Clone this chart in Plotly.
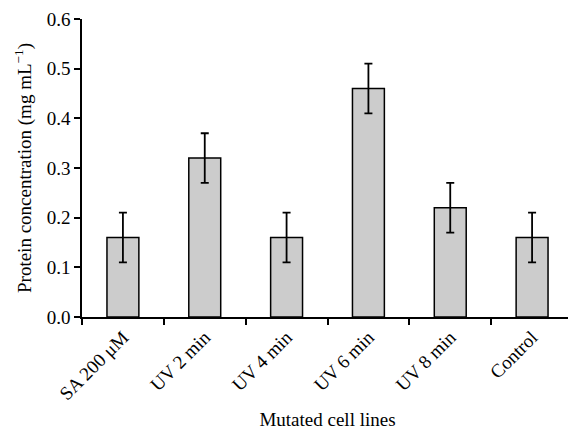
import plotly.graph_objects as go

categories = ["SA 200 μM", "UV 2 min", "UV 4 min", "UV 6 min", "UV 8 min", "Control"]
values = [0.16, 0.32, 0.16, 0.46, 0.22, 0.16]
errors = [0.05, 0.05, 0.05, 0.05, 0.05, 0.05]
y_ticks = [0.0, 0.1, 0.2, 0.3, 0.4, 0.5, 0.6]

fig = go.Figure()
fig.add_trace(go.Bar(
    x=categories, y=values,
    width=0.39,
    marker=dict(color="#cccccc", line=dict(color="black", width=1.5)),
    error_y=dict(type="data", array=errors, visible=True, color="black", thickness=1.8, width=4),
))

# page body has an 8px default margin, so the figure is shrunk by 8px on each side
font = dict(family="Liberation Serif, Times New Roman, serif", size=19, color="black")
fig.update_layout(
    width=568, height=422,
    margin=dict(l=74, r=3, t=11, b=113),
    plot_bgcolor="white", paper_bgcolor="white",
    font=font, showlegend=False,
    xaxis=dict(
        type="category", tickson="boundaries", ticks="outside", ticklen=6, tickwidth=1.5,
        tickcolor="black", showline=True, linecolor="black", linewidth=1.5,
        tickangle=-45, range=[-0.5, 5.5], automargin=False, tickfont=font,
        title=dict(text="Mutated cell lines", font=font, standoff=12),
    ),
    yaxis=dict(
        range=[0, 0.6], tickvals=y_ticks, ticktext=[f"{v:.1f}" for v in y_ticks],
        ticks="outside", ticklen=6, tickwidth=1.5, tickcolor="black", automargin=False,
        showline=True, linecolor="black", linewidth=1.5, showgrid=False, zeroline=False,
        tickfont=font,
        title=dict(text="Protein concentration (mg mL<sup>−1</sup>)", font=font, standoff=10),
    ),
)
fig.write_html("out.html")
